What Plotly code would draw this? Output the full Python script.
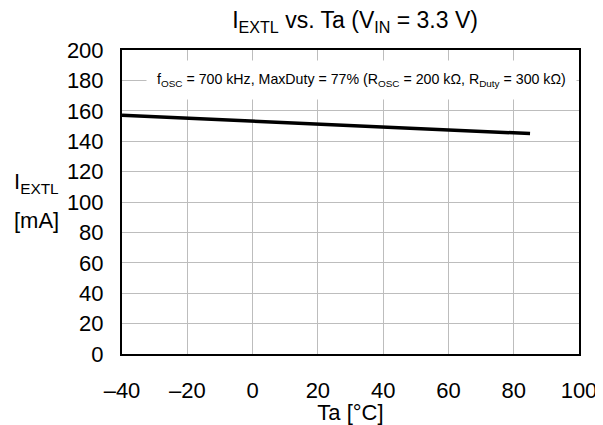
import plotly.graph_objects as go

ta = [-40, 0, 40, 85]
iextl = [157, 153, 149, 145]

x_ticks = [-40, -20, 0, 20, 40, 60, 80, 100]
x_labels = ["–40", "–20", "0", "20", "40", "60", "80", "100"]
y_ticks = [0, 20, 40, 60, 80, 100, 120, 140, 160, 180, 200]

title_text = "I<sub>EXTL</sub> vs. Ta (V<sub>IN</sub> = 3.3 V)"
note_text = ("f<sub>OSC</sub> = 700 kHz, MaxDuty = 77% (R<sub>OSC</sub> = 200 kΩ, "
             "R<sub>Duty</sub> = 300 kΩ)")
ylabel_line1 = "I<sub>EXTL</sub>"
ylabel_line2 = "[mA]"
xlabel_text = "Ta [°C]"

FONT = "Liberation Sans, Arial, sans-serif"

fig = go.Figure()
fig.add_trace(go.Scatter(x=ta, y=iextl, mode="lines",
                         line=dict(color="black", width=3.5),
                         showlegend=False, hoverinfo="skip"))

# page body has an 8px margin, so the figure is 8px smaller than the window
fig.update_layout(
    template="none",
    width=595, height=417,
    margin=dict(l=114, r=24, t=42, b=71, autoexpand=False),
    paper_bgcolor="white", plot_bgcolor="white",
    font=dict(family=FONT, size=22, color="black"),
    title=dict(text=title_text, xref="paper", x=0.51, xanchor="center",
               yref="container", y=0.972, yanchor="middle",
               font=dict(family=FONT, size=23, color="black")),
)
fig.update_xaxes(range=[-40, 100], tickvals=x_ticks, ticktext=x_labels,
                 automargin=False,
                 showgrid=True, gridcolor="#bdbdbd", gridwidth=1,
                 showline=True, linecolor="black", linewidth=2, mirror=True,
                 ticks="", ticklabelstandoff=16, zeroline=False,
                 tickfont=dict(size=22),
                 title=dict(text=xlabel_text, standoff=0, font=dict(size=22)))
fig.update_yaxes(range=[0, 200], tickvals=y_ticks,
                 automargin=False,
                 showgrid=True, gridcolor="#bdbdbd", gridwidth=1,
                 showline=True, linecolor="black", linewidth=2, mirror=True,
                 ticks="", ticklabelstandoff=12, zeroline=False,
                 tickfont=dict(size=22))

fig.add_annotation(x=0.525, xref="paper", y=180, yref="y", text=note_text,
                   showarrow=False, bgcolor="white", borderpad=10,
                   font=dict(family=FONT, size=14.2, color="black"))
fig.add_annotation(x=-0.24, xref="paper", y=112.5, yref="y", text=ylabel_line1,
                   showarrow=False, xanchor="left", align="left",
                   font=dict(family=FONT, size=22, color="black"))
fig.add_annotation(x=-0.24, xref="paper", y=88, yref="y", text=ylabel_line2,
                   showarrow=False, xanchor="left", align="left",
                   font=dict(family=FONT, size=22, color="black"))

fig.write_html("out.html")
